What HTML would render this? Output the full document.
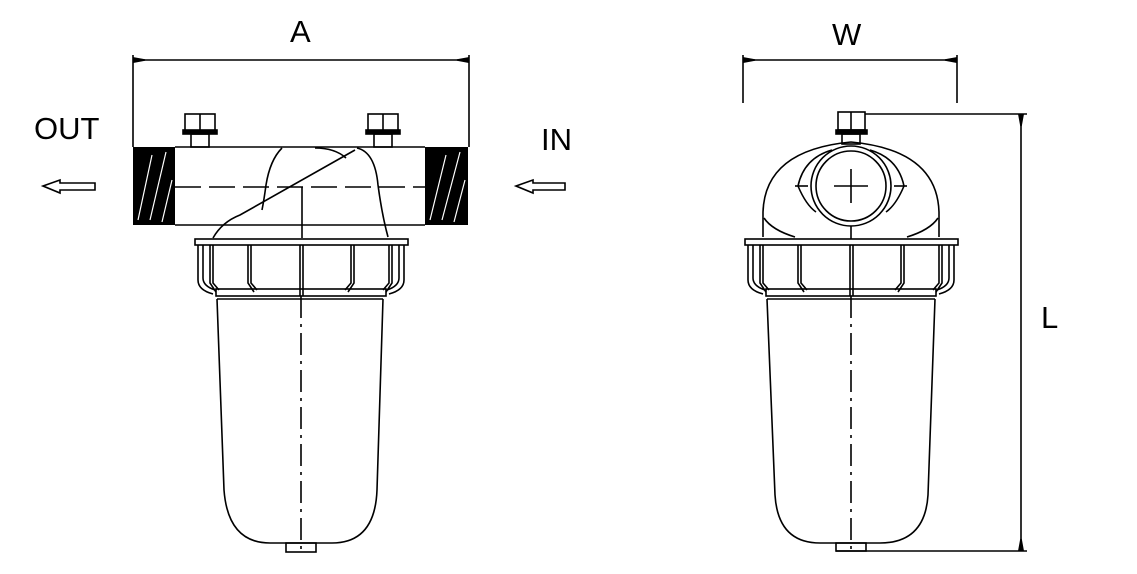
<!DOCTYPE html>
<html><head><meta charset="utf-8"><style>
html,body{margin:0;padding:0;background:#fff;width:1137px;height:574px;overflow:hidden}
text{font-family:"Liberation Sans",sans-serif;font-size:31px;fill:#000}
</style></head><body>
<svg width="1137" height="574" viewBox="0 0 1137 574" xmlns="http://www.w3.org/2000/svg">
<defs>
<g id="cage" fill="none" stroke="#000" stroke-width="1.6">
  <rect x="-106" y="239" width="213" height="6"/>
  <path d="M-103 245 V280 Q-103 290 -88 294"/>
  <path d="M-98 245 V278 Q-98 286 -86 290"/>
  <path d="M103 245 V280 Q103 290 88 294"/>
  <path d="M98 245 V278 Q98 286 86 290"/>
  <rect x="-85" y="289" width="170" height="7"/>
  <path d="M-91 245 V283 L-85 292 M-88 245 V283 L-82 290"/>
  <path d="M91 245 V283 L85 292 M88 245 V283 L82 290"/>
  <path d="M-53 245 V283 L-47 292 M-50 245 V283 L-44 290"/>
  <path d="M53 245 V283 L47 292 M50 245 V283 L44 290"/>
  <path d="M-1 245 V296 M2 245 V296"/>
</g>
</defs>
<!-- LEFT VIEW -->
<text x="290" y="42">A</text>
<text x="34" y="139">OUT</text>
<text x="541" y="150">IN</text>
<g fill="none" stroke="#000" stroke-width="1.6">
  <line x1="133" y1="55" x2="133" y2="147"/>
  <line x1="469" y1="55" x2="469" y2="147"/>
  <line x1="133" y1="60" x2="469" y2="60"/>
  <path d="M134 58 L145 60 L134 62 Z M468 58 L457 60 L468 62 Z" fill="#000"/>
  <path d="M43 186 L60 180 V183 H95 V190 H60 V193 Z"/>
  <path d="M516 186 L533 180 V183 H565 V190 H533 V193 Z"/>
  <line x1="175" y1="147" x2="425" y2="147"/>
  <line x1="175" y1="225" x2="425" y2="225"/>
  <line x1="175" y1="187" x2="425" y2="187" stroke-dasharray="26,8"/>
  <rect x="185" y="114" width="30" height="18"/>
  <line x1="200" y1="114" x2="200" y2="130"/>
  <rect x="183" y="130" width="34" height="4" fill="#000"/>
  <rect x="191" y="134" width="18" height="13"/>
  <rect x="368" y="114" width="30" height="18"/>
  <line x1="383" y1="114" x2="383" y2="130"/>
  <rect x="366" y="130" width="34" height="4" fill="#000"/>
  <rect x="374" y="134" width="18" height="13"/>
  <path d="M282 148 Q270 160 266 185 Q264 200 262 210"/>
  <path d="M213 238 Q222 222 240 215 L355 150"/>
  <path d="M315 148 Q335 148 346 158"/>
  <path d="M357 148 Q375 152 378 185 Q382 215 388 237"/>
  <line x1="302" y1="187" x2="302" y2="238"/>
  <line x1="217" y1="299" x2="383" y2="299"/>
  <path d="M217 299 L224 490 Q228 543 270 543 H332 Q375 543 377 490 L383 299"/>
  <rect x="286" y="543" width="30" height="9"/>
  <line x1="301" y1="296" x2="301" y2="552" stroke-dasharray="22,6,3,6"/>
</g>
<rect x="133" y="147" width="42" height="78" fill="#000"/>
<rect x="425" y="147" width="43" height="78" fill="#000"/>
<g stroke="#fff" stroke-width="1.2" fill="none">
  <path d="M138 220 L152 155 M150 220 L166 152 M162 222 L172 180"/>
  <path d="M430 220 L446 155 M442 220 L460 152 M454 222 L465 180"/>
</g>
<use href="#cage" transform="translate(301 0)"/>
<!-- RIGHT VIEW -->
<text x="832" y="45">W</text>
<text x="1041" y="328">L</text>
<g fill="none" stroke="#000" stroke-width="1.6">
  <line x1="743" y1="55" x2="743" y2="103"/>
  <line x1="957" y1="55" x2="957" y2="103"/>
  <line x1="743" y1="60" x2="957" y2="60"/>
  <path d="M744 58 L755 60 L744 62 Z M956 58 L945 60 L956 62 Z" fill="#000"/>
  <line x1="865" y1="114" x2="1027" y2="114"/>
  <line x1="836" y1="551" x2="1027" y2="551"/>
  <line x1="1021" y1="114" x2="1021" y2="551"/>
  <path d="M1019 115 L1021 126 L1023 115 Z M1019 550 L1021 539 L1023 550 Z" fill="#000"/>
  <rect x="838" y="112" width="27" height="18"/>
  <line x1="851" y1="112" x2="851" y2="130"/>
  <rect x="836" y="130" width="31" height="4" fill="#000"/>
  <rect x="842" y="134" width="18" height="10"/>
  <path d="M763 237 V212 Q765 150 851 142 Q937 150 939 212 V237"/>
  <path d="M795 237 Q772 230 764 218 M907 237 Q930 230 938 218"/>
  <path d="M798 186 Q804 158 832 150 M904 186 Q898 158 870 150"/>
  <path d="M798 186 Q806 205 816 212 M904 186 Q896 205 886 212"/>
  <circle cx="851" cy="186" r="40"/>
  <circle cx="851" cy="186" r="35"/>
  <line x1="834" y1="186" x2="868" y2="186"/>
  <line x1="851" y1="169" x2="851" y2="203"/>
  <line x1="795" y1="186" x2="808" y2="186"/>
  <line x1="894" y1="186" x2="907" y2="186"/>
  <line x1="851" y1="226" x2="851" y2="239"/>
  <line x1="767" y1="299" x2="935" y2="299"/>
  <path d="M767 299 L775 495 Q778 543 820 543 H880 Q925 543 928 495 L935 299"/>
  <rect x="836" y="543" width="30" height="8"/>
  <line x1="851" y1="296" x2="851" y2="551" stroke-dasharray="22,6,3,6"/>
</g>
<use href="#cage" transform="translate(851 0)"/>
</svg>
</body></html>
